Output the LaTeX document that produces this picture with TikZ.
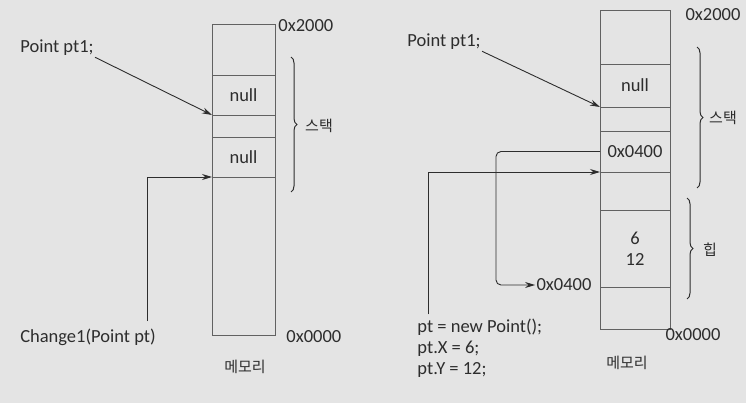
\documentclass[tikz,border=0pt]{standalone}
\usepackage{fontspec}
\setmainfont{Carlito}
\newfontfamily\kofont{Noto Sans CJK KR}
\usetikzlibrary{decorations.pathreplacing,arrows.meta}
\definecolor{paper}{RGB}{228,228,228}
\definecolor{ink}{RGB}{45,45,45}

\tikzset{
  cell/.style={draw=ink!75, line width=0.6pt, inner sep=0pt, outer sep=0pt},
  kor/.style={font=\kofont\fontsize{15}{18}\selectfont},
  stackbrace/.style={decorate, decoration={brace, amplitude=6pt}, line width=1pt, draw=ink},
}

\begin{document}
\begin{tikzpicture}[x=1pt, y=-1pt, >={Stealth[length=10pt,width=6pt]}, line width=0.9pt, draw=ink,
  every node/.style={font=\fontsize{18.5}{21}\selectfont, text=ink, inner sep=1pt}]
\fill[paper] (0,0) rectangle (746,403);
\useasboundingbox (0,0) rectangle (746,403);

% left memory
\node[cell,minimum width=63,minimum height=51] (lm0) at (243.5,49.5) {};
\node[cell,minimum width=63,minimum height=40] (lm1) at (243.5,95) {null};
\node[cell,minimum width=63,minimum height=22] (lm2) at (243.5,126) {};
\node[cell,minimum width=63,minimum height=40] (lm3) at (243.5,157) {null};
\node[cell,minimum width=63,minimum height=158] (lm4) at (243.5,256) {};
\node[anchor=west] (ltop) at (277,26) {0x2000};
\node[anchor=west] (lbot) at (285,337) {0x0000};
\node[kor] (lmem) at (245,367) {메모리};
\draw[stackbrace] (291,57) -- (291,192);
\node[kor] (lstk) at (319,126) {스택};

\node (lpt) at (57,48) {Point pt1;};
\node (chg) at (88,337) {Change1(Point pt)};
\draw[->] (lpt.south east) -- (lm1.south west);
\draw[->] ([xshift=59pt,yshift=6pt]chg.north) |- (lm3.south west);

% right memory
\node[cell,minimum width=70,minimum height=54] (rm0) at (635,37) {};
\node[cell,minimum width=70,minimum height=43] (rm1) at (635,85.5) {null};
\node[cell,minimum width=70,minimum height=24] (rm2) at (635,119) {};
\node[cell,minimum width=70,minimum height=41] (rm3) at (635,151.5) {0x0400};
\node[cell,minimum width=70,minimum height=38] (rm4) at (635,191) {};
\node[cell,minimum width=70,minimum height=77,align=center] (rm5) at (635,248.5) {6\\12};
\node[cell,minimum width=70,minimum height=42] (rm6) at (635,308) {};
\node (rtop) at (713,15) {0x2000};
\node (rbot) at (693,335) {0x0000};
\node[kor] (rmem) at (627,363) {메모리};
\draw[stackbrace] (697,47) -- (697,188);
\node[kor] (rstk) at (723,118) {스택};
\draw[stackbrace] (687,198) -- (687,299);
\node[kor] (rheap) at (710,250) {힙};

\node (rpt) at (444,42) {Point pt1;};
\node (haddr) at (564,285) {0x0400};
\node[anchor=west,align=left] (code) at (416,348) {pt = new Point();\\pt.X = 6;\\pt.Y = 12;};
\draw[->] (rpt.south east) -- (rm1.south west);
\draw[->,rounded corners=5] (rm3.west) -- ++(-104,0) |- (haddr.west);
\draw[->] ([xshift=12pt,yshift=3pt]code.north west) |- (rm3.south west);
\end{tikzpicture}
\end{document}
